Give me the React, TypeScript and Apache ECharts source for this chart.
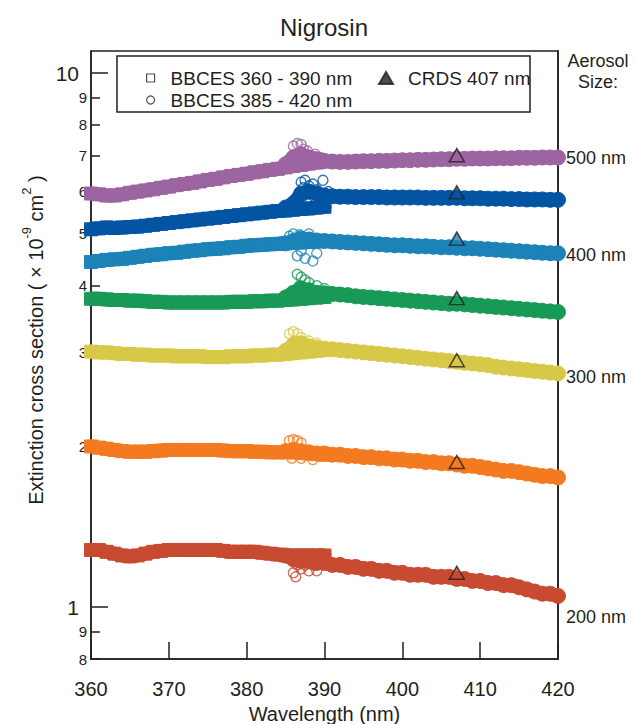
import React, { useEffect, useRef } from "react";
import * as echarts from "echarts";

const FONT = "Liberation Sans, Arial, Helvetica, sans-serif";
const INK = "#231f20";

// Wavelength grids (nm)
const sqWavelengths = [360,361,362,363,364,365,366,367,368,369,370,371,372,373,374,375,376,377,378,379,380,381,382,383,384,385,386,387,388,389,390];
const circWavelengths = [385,386,387,388,389,390,391,392,393,394,395,396,397,398,399,400,401,402,403,404,405,406,407,408,409,410,411,412,413,414,415,416,417,418,419,420];

const sizeNames = ["200 nm", "250 nm", "300 nm", "350 nm", "400 nm", "450 nm", "500 nm"];
const colors = ["#c84a32", "#f37a21", "#d7c948", "#189a56", "#1b83b7", "#0354a3", "#9c64a0"];

// BBCES 360 - 390 nm (squares), one row per aerosol size (x 1e-9 cm^2)
const sq200 = [1.28,1.28,1.27,1.26,1.25,1.245,1.25,1.26,1.27,1.275,1.28,1.28,1.28,1.28,1.28,1.28,1.28,1.275,1.27,1.27,1.27,1.27,1.265,1.26,1.255,1.25,1.25,1.25,1.25,1.25,1.25];
const sq250 = [2.0,1.99,1.98,1.97,1.96,1.955,1.955,1.955,1.96,1.965,1.97,1.97,1.97,1.97,1.97,1.97,1.97,1.965,1.96,1.96,1.96,1.955,1.955,1.95,1.95,1.95,1.95,1.945,1.94,1.935,1.93];
const sq300 = [3.01,3.0,3.0,2.99,2.98,2.98,2.97,2.97,2.96,2.96,2.96,2.95,2.95,2.95,2.95,2.94,2.94,2.94,2.95,2.95,2.95,2.96,2.96,2.97,2.97,2.98,2.99,3.0,3.01,3.02,3.03];
const sq350 = [3.78,3.78,3.77,3.76,3.76,3.75,3.75,3.74,3.73,3.73,3.72,3.72,3.72,3.72,3.72,3.72,3.72,3.72,3.73,3.73,3.73,3.74,3.74,3.75,3.75,3.76,3.77,3.78,3.79,3.8,3.81];
const sq400 = [4.43,4.45,4.47,4.48,4.49,4.51,4.53,4.55,4.57,4.58,4.6,4.61,4.63,4.65,4.66,4.68,4.69,4.7,4.72,4.73,4.75,4.76,4.77,4.78,4.79,4.8,4.81,4.82,4.83,4.84,4.85];
const sq450 = [5.1,5.12,5.14,5.13,5.14,5.15,5.16,5.18,5.2,5.22,5.24,5.26,5.28,5.3,5.32,5.34,5.36,5.38,5.4,5.42,5.44,5.46,5.48,5.5,5.52,5.53,5.55,5.57,5.58,5.6,5.62];
const sq500 = [5.95,5.93,5.9,5.9,5.93,5.97,6.0,6.03,6.06,6.1,6.13,6.17,6.2,6.23,6.27,6.31,6.34,6.38,6.42,6.45,6.48,6.52,6.55,6.59,6.62,6.66,6.7,6.73,6.77,6.8,6.83];
const sqValues = [sq200, sq250, sq300, sq350, sq400, sq450, sq500];

// BBCES 385 - 420 nm (circles)
const ci200 = [1.25,1.23,1.22,1.22,1.21,1.21,1.2,1.2,1.19,1.19,1.18,1.18,1.17,1.17,1.16,1.16,1.15,1.15,1.15,1.14,1.14,1.14,1.13,1.13,1.12,1.12,1.11,1.11,1.1,1.1,1.09,1.08,1.07,1.06,1.06,1.05];
const ci250 = [1.96,1.97,1.96,1.95,1.94,1.94,1.93,1.93,1.92,1.92,1.91,1.91,1.9,1.9,1.89,1.89,1.88,1.88,1.87,1.87,1.86,1.86,1.85,1.84,1.84,1.83,1.82,1.81,1.8,1.8,1.79,1.78,1.77,1.76,1.76,1.75];
const ci300 = [3.02,3.1,3.12,3.08,3.06,3.05,3.04,3.03,3.02,3.01,3.0,2.99,2.98,2.97,2.96,2.95,2.94,2.93,2.92,2.91,2.9,2.89,2.88,2.87,2.86,2.85,2.84,2.82,2.81,2.8,2.79,2.78,2.77,2.76,2.75,2.74];
const ci350 = [3.8,3.88,3.95,3.92,3.88,3.87,3.86,3.85,3.84,3.82,3.81,3.8,3.79,3.78,3.77,3.76,3.75,3.74,3.73,3.72,3.71,3.7,3.7,3.69,3.68,3.67,3.66,3.65,3.64,3.63,3.62,3.61,3.6,3.59,3.58,3.57];
const ci400 = [4.8,4.85,4.9,4.88,4.86,4.85,4.84,4.83,4.82,4.81,4.8,4.79,4.78,4.77,4.76,4.76,4.75,4.74,4.74,4.73,4.72,4.72,4.71,4.7,4.7,4.69,4.68,4.67,4.66,4.65,4.64,4.63,4.62,4.61,4.6,4.6];
const ci450 = [5.6,5.7,5.95,6.0,5.95,5.9,5.88,5.87,5.87,5.86,5.86,5.86,5.86,5.85,5.85,5.85,5.85,5.85,5.84,5.84,5.84,5.84,5.84,5.83,5.83,5.83,5.82,5.82,5.82,5.81,5.81,5.8,5.8,5.8,5.79,5.79];
const ci500 = [6.75,6.95,7.05,6.95,6.9,6.85,6.83,6.82,6.82,6.83,6.84,6.84,6.85,6.85,6.86,6.87,6.87,6.88,6.88,6.89,6.9,6.9,6.91,6.91,6.92,6.92,6.92,6.93,6.93,6.93,6.94,6.94,6.94,6.95,6.95,6.95];
const circValues = [ci200, ci250, ci300, ci350, ci400, ci450, ci500];

// Scattered BBCES circles around the 385-390 nm overlap region [wavelength, value]
const bump200 = [[386,1.16],[386.3,1.14],[387,1.18],[388,1.17],[389,1.17],[388.5,1.2],[387.5,1.2],[386.5,1.2]];
const bump250 = [[385.5,2.05],[386,2.06],[386.5,2.05],[387,2.03],[385.8,1.9],[387,1.9],[388.5,1.89]];
const bump300 = [[385.5,3.25],[386,3.28],[386.5,3.25],[387,3.2],[386.2,3.15],[388,3.15],[389,3.12]];
const bump350 = [[386.5,4.2],[387,4.15],[387.5,4.1],[388,4.05],[386.8,4.0],[389,4.0],[390,3.95]];
const bump400 = [[385.5,4.95],[386,5.0],[386.8,4.98],[388,5.0],[386.5,4.55],[387.5,4.5],[388.5,4.45],[389,4.6],[387,4.65]];
const bump450 = [[387,6.25],[387.5,6.3],[388,6.15],[388.5,6.2],[389,6.05],[387.3,6.1],[389.8,6.3],[390.5,6.0],[388.2,5.75],[387.8,5.7]];
const bump500 = [[386,7.3],[386.5,7.38],[387,7.35],[387.3,7.2],[386.8,7.1],[387.8,7.15],[388.3,7.0],[388.8,7.05],[389.5,6.95],[386.2,7.05]];
const bumpValues = [bump200, bump250, bump300, bump350, bump400, bump450, bump500];

// CRDS 407 nm (triangles)
const crdsWavelength = 407;
const crdsValues = [1.16, 1.87, 2.9, 3.79, 4.9, 5.98, 7.02];

// Axis ticks
const majorTicks = [1, 10];
const minorTicks = [0.8, 0.9, 2, 3, 4, 5, 6, 7, 8, 9];
const sizeLabelValues = [0.96, 2.7, 4.56, 6.93];
const sizeLabels = ["200 nm", "300 nm", "400 nm", "500 nm"];

const legendSquare = "BBCES 360 - 390 nm";
const legendCircle = "BBCES 385 - 420 nm";
const legendCrds = "CRDS 407 nm";

export default function App() {
  const ref = useRef<HTMLDivElement>(null);

  useEffect(() => {
    document.body.style.margin = "0";
    if (!ref.current) return;
    const chart = echarts.init(ref.current, null, { renderer: "svg" });

    const squareData: any[] = [];
    const circleData: any[] = [];
    const bumpData: any[] = [];
    const bandSeries: any[] = [];
    sizeNames.forEach((name, i) => {
      const sqPairs = sqWavelengths.map((w, j) => [w, sqValues[i][j]]);
      const ciPairs = circWavelengths.map((w, j) => [w, circValues[i][j]]);
      sqPairs.forEach((p) => squareData.push({ value: p, itemStyle: { color: colors[i], borderColor: colors[i], opacity: 0.95 } }));
      ciPairs.forEach((p) => circleData.push({ value: p, itemStyle: { color: colors[i], borderColor: colors[i], opacity: 0.95 } }));
      bumpValues[i].forEach((p) => bumpData.push({ value: p, itemStyle: { borderColor: colors[i] } }));
      [sqPairs, ciPairs].forEach((pairs, k) => {
        bandSeries.push({
          name: name + (k === 0 ? " band 360-390" : " band 385-420"),
          type: "line",
          yAxisIndex: 0,
          data: pairs,
          showSymbol: false,
          symbol: "none",
          silent: true,
          lineStyle: { color: colors[i], width: 14, cap: "round", join: "round" },
          z: 1,
        });
      });
    });
    const crdsData = crdsValues.map((v, i) => ({ value: [crdsWavelength, v], itemStyle: { color: colors[i] } }));

    const yCommon: any = {
      type: "log",
      logBase: 10,
      min: 0.8,
      max: 11,
      splitLine: { show: false },
    };

    const option: any = {
      animation: false,
      textStyle: { fontFamily: FONT },
      grid: {
        left: 91,
        right: 77,
        top: 51,
        bottom: 65,
        containLabel: false,
        outerBoundsMode: "none",
        show: true,
        borderColor: INK,
        borderWidth: 1.5,
        backgroundColor: "transparent",
      },
      legend: [
        {
          data: [
            { name: legendSquare, icon: "rect", itemStyle: { color: "rgba(0,0,0,0)", borderColor: INK, borderWidth: 1.2 } },
            { name: legendCircle, icon: "circle", itemStyle: { color: "rgba(0,0,0,0)", borderColor: INK, borderWidth: 1.2 } },
          ],
          orient: "vertical",
          left: 141,
          top: 63,
          itemWidth: 8,
          itemHeight: 8,
          itemGap: 2,
          selectedMode: false,
          textStyle: { fontSize: 19, lineHeight: 20, color: INK, fontFamily: FONT, padding: [0, 0, 0, 11] },
        },
        {
          data: [{ name: legendCrds, icon: "triangle", itemStyle: { color: INK, borderColor: INK } }],
          orient: "horizontal",
          left: 373,
          top: 63,
          itemWidth: 14,
          itemHeight: 12,
          selectedMode: false,
          textStyle: { fontSize: 19, lineHeight: 20, color: INK, fontFamily: FONT, padding: [0, 0, 0, 10] },
        },
      ],
      xAxis: {
        type: "value",
        min: 360,
        max: 420,
        interval: 10,
        splitLine: { show: false },
        axisLine: { show: true, lineStyle: { color: INK, width: 1.5 } },
        axisTick: { show: true, inside: true, length: 17, lineStyle: { color: INK, width: 1.5 } },
        axisLabel: { fontSize: 20, color: INK, margin: 20, fontFamily: FONT },
        name: "Wavelength (nm)",
        nameLocation: "middle",
        nameGap: 38,
        nameTextStyle: { fontSize: 20, color: INK, fontFamily: FONT },
      },
      yAxis: [
        {
          ...yCommon,
          position: "left",
          axisLine: { show: true, lineStyle: { color: INK, width: 1.5 } },
          axisTick: { show: true, inside: true, length: 17, lineStyle: { color: INK, width: 1.5 }, customValues: majorTicks },
          axisLabel: { customValues: majorTicks, fontSize: 21, margin: 12, color: INK, fontFamily: FONT, formatter: (v: number) => String(Math.round(v)) },
        },
        {
          ...yCommon,
          position: "left",
          axisLine: { show: false },
          axisTick: { show: true, inside: true, length: 9, lineStyle: { color: INK, width: 1.5 }, customValues: minorTicks },
          axisLabel: {
            customValues: minorTicks,
            fontSize: 15,
            margin: 4,
            color: INK,
            fontFamily: FONT,
            formatter: (v: number) => (v < 1 ? String(Math.round(v * 10)) : String(Math.round(v))),
          },
        },
        {
          ...yCommon,
          position: "right",
          axisLine: { show: true, lineStyle: { color: INK, width: 1.5 } },
          axisTick: { show: false },
          axisLabel: {
            customValues: sizeLabelValues,
            fontSize: 18,
            margin: 8,
            color: INK,
            fontFamily: FONT,
            formatter: (v: number) => {
              let best = 0;
              sizeLabelValues.forEach((s, k) => {
                if (Math.abs(s - v) < Math.abs(sizeLabelValues[best] - v)) best = k;
              });
              return sizeLabels[best];
            },
          },
        },
      ],
      graphic: [
        {
          type: "text",
          x: 324,
          y: 27,
          style: { text: "Nigrosin", fontSize: 24, fill: INK, fontFamily: FONT, align: "center", verticalAlign: "middle" },
        },
        {
          type: "text",
          x: 598,
          y: 61,
          style: { text: "Aerosol", fontSize: 18, fill: INK, fontFamily: FONT, align: "center", verticalAlign: "middle" },
        },
        {
          type: "text",
          x: 598,
          y: 82,
          style: { text: "Size:", fontSize: 18, fill: INK, fontFamily: FONT, align: "center", verticalAlign: "middle" },
        },
        {
          type: "rect",
          shape: { x: 117, y: 56, width: 413, height: 56 },
          style: { fill: "none", stroke: INK, lineWidth: 1.5 },
          z: 10,
        },
        {
          type: "text",
          x: 33,
          y: 340,
          rotation: Math.PI / 2,
          style: {
            text: "{a|Extinction cross section ( × 10}{s|-9}{a| cm}{s|2}{a| )}",
            align: "center",
            verticalAlign: "middle",
            fill: INK,
            fontFamily: FONT,
            rich: {
              a: { fontSize: 20, lineHeight: 26, verticalAlign: "bottom", fill: INK, fontFamily: FONT },
              s: { fontSize: 13, lineHeight: 26, verticalAlign: "top", fill: INK, fontFamily: FONT },
            },
          },
        },
      ],
      series: [
        ...bandSeries,
        {
          name: legendSquare,
          type: "scatter",
          yAxisIndex: 0,
          symbol: "rect",
          symbolSize: 13,
          data: squareData,
          z: 2,
        },
        {
          name: legendCircle,
          type: "scatter",
          yAxisIndex: 0,
          symbol: "circle",
          symbolSize: 15,
          data: circleData,
          z: 3,
        },
        {
          name: legendCircle + " scatter",
          type: "scatter",
          yAxisIndex: 0,
          symbol: "circle",
          symbolSize: 10,
          itemStyle: { color: "rgba(0,0,0,0)", borderWidth: 1.4 },
          data: bumpData,
          z: 4,
        },
        {
          name: legendCrds,
          type: "scatter",
          yAxisIndex: 0,
          symbol: "triangle",
          symbolSize: [15, 13],
          itemStyle: { borderColor: INK, borderWidth: 1.5 },
          data: crdsData,
          z: 5,
        },
      ],
    };

    chart.setOption(option);
    return () => chart.dispose();
  }, []);

  return <div ref={ref} style={{ width: 635, height: 724 }} />;
}
